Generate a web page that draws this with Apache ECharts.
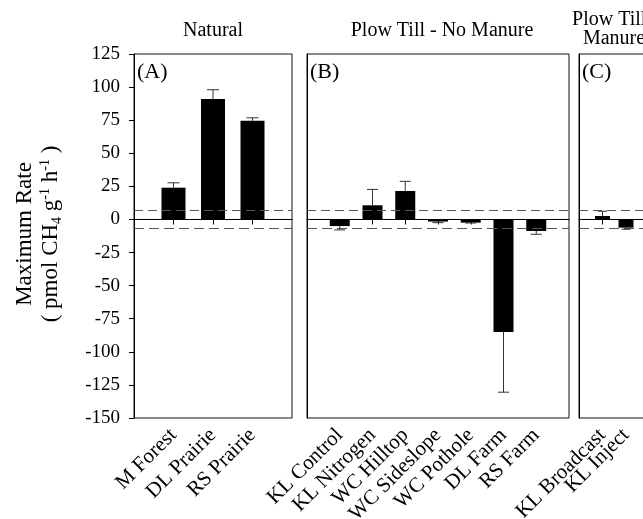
<!DOCTYPE html>
<html>
<head>
<meta charset="utf-8">
<script src="https://cdn.jsdelivr.net/npm/echarts@6/dist/echarts.min.js"></script>
<style>
  html, body { margin: 0; padding: 0; background: #fff; }
  #chart { width: 643px; height: 519px; }
</style>
</head>
<body>
<div id="chart"></div>
<script>
// panel A - natural
const catA = ['M Forest', 'DL Prairie', 'RS Prairie']
const valA = [24, 91, 74.5]
const errA = [3.7, 7, 2.3]

// panel B - plow till, no manure
const catB = ['KL Control', 'KL Nitrogen', 'WC Hilltop', 'WC Sideslope', 'WC Pothole', 'DL Farm', 'RS Farm']
const valB = [-5, 10.7, 21.5, -1.6, -2.4, -85, -8.7]
const errB = [2.9, 12, 7.3, 0.8, 0.3, 45.5, 2.5]

// panel C - plow till, manure (only part visible)
const catC = ['KL Broadcast', 'KL Inject']
const valC = [2.6, -6.2]
const errC = [3.6, 1.2]

const yMin = -150
const yMax = 125
const yStep = 25
const dashLevels = [7, -7]

const FONT = '"Liberation Serif", "Times New Roman", serif'
const chart = echarts.init(document.getElementById('chart'))

// pad categories so ticks sit inside the box, not on its edges
function padCats(cats, extraRight) {
  return [''].concat(cats, Array(extraRight).fill(''))
}
function padVals(vals, extraRight) {
  return ['-'].concat(vals, Array(extraRight).fill('-'))
}

const panels = [
  { cats: catA, vals: valA, errs: errA, extra: 1, left: 134, width: 158, barW: 24, cap: 12 },
  { cats: catB, vals: valB, errs: errB, extra: 1, left: 307, width: 262, barW: 20, cap: 11 },
  { cats: catC, vals: valC, errs: errC, extra: 3, left: 579, width: 117.5, barW: 15, cap: 9 }
]

const grid = panels.map(p => ({
  left: p.left, top: 54, width: p.width, height: 364,
  show: true, borderColor: '#111', borderWidth: 1,
  containLabel: false, outerBoundsMode: 'none'
}))

const xAxis = panels.map((p, i) => ({
  type: 'category',
  gridIndex: i,
  data: padCats(p.cats, p.extra),
  boundaryGap: false,
  axisLine: { lineStyle: { color: '#000', width: 1 } },
  axisTick: { length: 5, interval: (idx, v) => v !== '', lineStyle: { color: '#000' } },
  axisLabel: {
    interval: 0, rotate: 45, margin: 14,
    fontFamily: FONT, fontSize: 21, color: '#000'
  },
  splitLine: { show: false }
}))

const yAxis = panels.map((p, i) => ({
  type: 'value',
  gridIndex: i,
  min: yMin, max: yMax, interval: yStep,
  axisLine: { show: true, lineStyle: { color: '#000', width: 1 } },
  axisTick: { show: i === 0, length: 5, lineStyle: { color: '#000' } },
  axisLabel: { show: i === 0, margin: 14, fontFamily: FONT, fontSize: 19, color: '#000' },
  splitLine: { show: false }
}))

function refLines() {
  return {
    silent: true,
    symbol: 'none',
    label: { show: false },
    data: [
      { yAxis: 0, lineStyle: { type: 'solid', color: '#000', width: 1 } },
      { yAxis: dashLevels[0], lineStyle: { type: [9, 5], color: '#555', width: 1 } },
      { yAxis: dashLevels[1], lineStyle: { type: [10, 5], color: '#555', width: 1 } }
    ]
  }
}

const series = []
panels.forEach((p, i) => {
  series.push({
    type: 'bar',
    xAxisIndex: i, yAxisIndex: i,
    data: padVals(p.vals, p.extra),
    barWidth: p.barW,
    itemStyle: { color: '#000' },
    markLine: refLines(),
    silent: true
  })
  series.push({
    type: 'custom',
    xAxisIndex: i, yAxisIndex: i,
    encode: { x: 0, y: 1 },
    data: p.vals.map((v, k) => [k + 1, v, p.errs[k]]),
    z: 5,
    silent: true,
    renderItem: (params, api) => {
      const x = api.value(0)
      const v = api.value(1)
      const e = api.value(2)
      const end = v >= 0 ? v + e : v - e
      const a = api.coord([x, v])
      const b = api.coord([x, end])
      const style = { stroke: '#333', lineWidth: 1 }
      return {
        type: 'group',
        children: [
          { type: 'line', shape: { x1: a[0], y1: a[1], x2: b[0], y2: b[1] }, style },
          { type: 'line', shape: { x1: b[0] - p.cap / 2, y1: b[1], x2: b[0] + p.cap / 2, y2: b[1] }, style }
        ]
      }
    }
  })
})

function txt(text, x, y, size, align) {
  return {
    type: 'text', x, y, silent: true,
    style: {
      text, fontFamily: FONT, fontSize: size, fill: '#000',
      textAlign: align || 'center', textVerticalAlign: 'middle', verticalAlign: 'middle'
    }
  }
}

const option = {
  animation: false,
  grid, xAxis, yAxis, series,
  graphic: [
    txt('Natural', 213, 31, 20),
    txt('Plow Till - No Manure', 442, 31, 20),
    txt('Plow Till -', 615, 20, 20),
    txt('Manure', 614, 39, 20),
    txt('(A)', 137, 72, 22, 'left'),
    txt('(B)', 310, 72, 22, 'left'),
    txt('(C)', 582, 72, 22, 'left'),
    {
      type: 'text', x: 38, y: 234, rotation: Math.PI / 2, silent: true,
      style: {
        text: '{m|Maximum Rate}\n{m|( pmol CH}{sub|4}{m| g}{sup|-1}{m| h}{sup|-1}{m| )}',
        fontFamily: FONT, fill: '#000',
        textAlign: 'center', textVerticalAlign: 'middle', verticalAlign: 'middle',
        rich: {
          m: { fontFamily: FONT, fontSize: 23, lineHeight: 26, verticalAlign: 'middle' },
          sub: { fontFamily: FONT, fontSize: 14, lineHeight: 26, verticalAlign: 'bottom' },
          sup: { fontFamily: FONT, fontSize: 14, lineHeight: 26, verticalAlign: 'top' }
        }
      }
    }
  ]
}

chart.setOption(option)
</script>
</body>
</html>
